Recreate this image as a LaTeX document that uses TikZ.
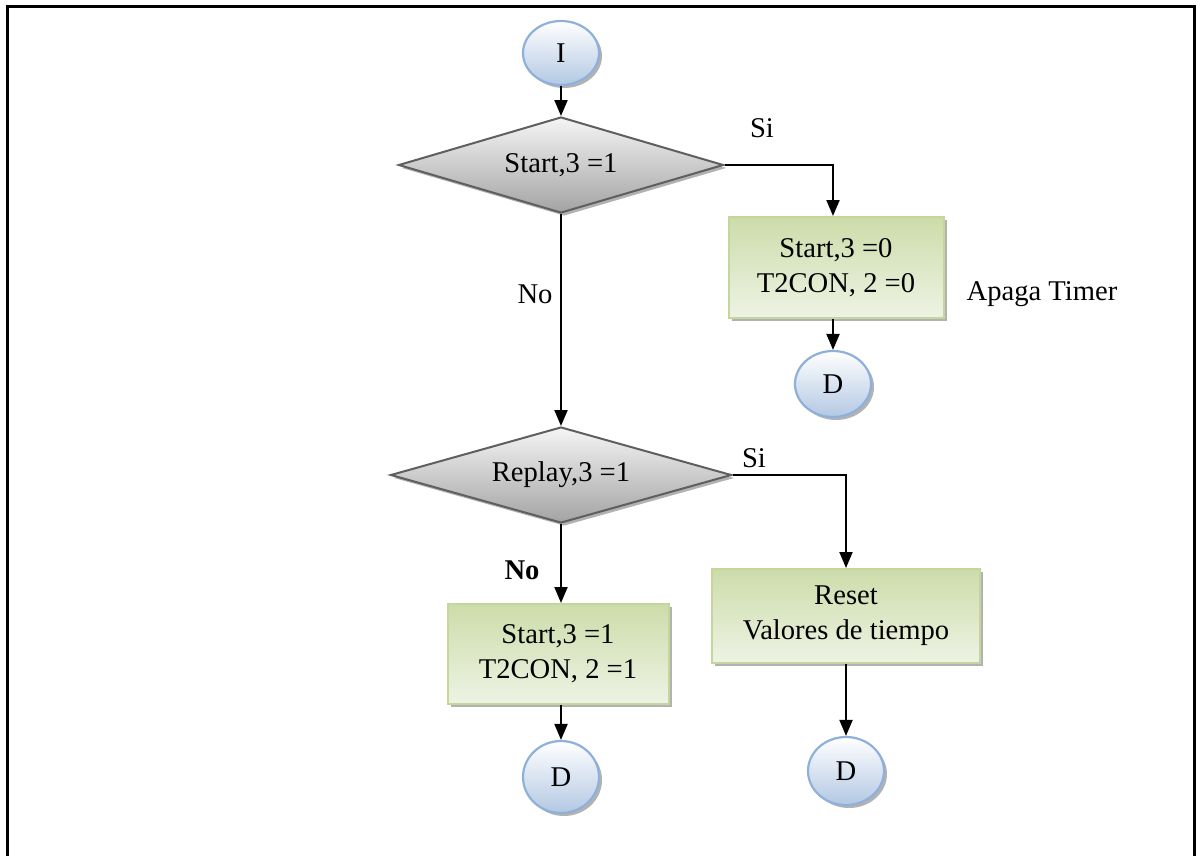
\documentclass[tikz,border=0pt]{standalone}
\usepackage{fontspec}
\setmainfont{Liberation Serif}
\usetikzlibrary{shapes.geometric,shadows,arrows.meta}

\definecolor{ovalborder}{HTML}{8EB0DA}
\definecolor{ovaldark}{HTML}{B3C8E3}
\definecolor{boxborder}{HTML}{C3D69B}
\definecolor{boxdark}{HTML}{CDDCAA}
\definecolor{boxlight}{HTML}{EEF3E4}
\definecolor{diaborder}{HTML}{5F5F5F}

\begin{document}
\begin{tikzpicture}[x=0.5pt,y=-0.5pt,
  font=\fontsize{14.3}{17.5}\selectfont,
  every node/.style={inner sep=0pt},
  shade/.style={drop shadow={shadow xshift=1.5pt,shadow yshift=-1.5pt,fill=black!55,opacity=0.55}},
  terminal/.style={ellipse, draw=ovalborder, line width=1.1pt, top color=white,
    bottom color=ovaldark, minimum width=38pt, minimum height=32pt, shade},
  decision/.style={diamond, aspect=3.4, draw=diaborder, line width=1pt,
    top color=black!4, bottom color=black!36, minimum height=48pt, shade},
  process/.style={rectangle, draw=boxborder, line width=1pt, top color=boxdark,
    bottom color=boxlight, align=center, shade},
  arr/.style={-{Triangle[length=8pt,width=6.5pt]}, line width=1pt},
  lbl/.style={anchor=center}]

\useasboundingbox (0,0) rectangle (1204,856);

% page frame, open at the bottom
\draw[line width=1.5pt] (7,870) -- (7,7) -- (1194,7) -- (1194,870);

% nodes
\node[terminal] (I) at (561,53) {I};
\node[decision, minimum width=162.5pt] (d1) at (561,165) {Start,3 =1};
\node[process, minimum width=107.5pt, minimum height=50.5pt] (b1) at (836,267.5)
  {Start,3 =0\\T2CON, 2 =0};
\node[terminal, minimum height=33pt] (D1) at (833,384) {D};
\node[decision, minimum width=170.5pt] (d2) at (561,475) {Replay,3 =1};
\node[process, minimum width=110.5pt, minimum height=50pt] (b2) at (558,654)
  {Start,3 =1\\T2CON, 2 =1};
\node[terminal, minimum height=36pt] (D2) at (561,777) {D};
\node[process, minimum width=134pt, minimum height=47pt] (b3) at (846,616)
  {Reset\\Valores de tiempo};
\node[terminal, minimum height=34pt] (D3) at (846,771) {D};

% labels
\node[lbl] (si1) at (762,128) {Si};
\node[lbl] (no1) at (535,294) {No};
\node[lbl] (apaga) at (1042,294) {Apaga Timer};
\node[lbl] (si2) at (754,458) {Si};
\node[lbl, font=\fontsize{14.3}{17.5}\selectfont\bfseries] (no2) at (522,570) {No};

% connectors
\draw[arr] (I) -- (d1);
\draw[arr] (d1.east) -| (D1.north |- b1.north);
\draw[arr] (b1.south -| D1.north) -- (D1.north);
\draw[arr] (d1.south) -- (d2.north);
\draw[arr] (d2.east) -| (b3.north);
\draw[arr] (d2.south) -- (d2.south |- b2.north);
\draw[arr] (b2.south -| D2.north) -- (D2.north);
\draw[arr] (b3) -- (D3);

\end{tikzpicture}
\end{document}
